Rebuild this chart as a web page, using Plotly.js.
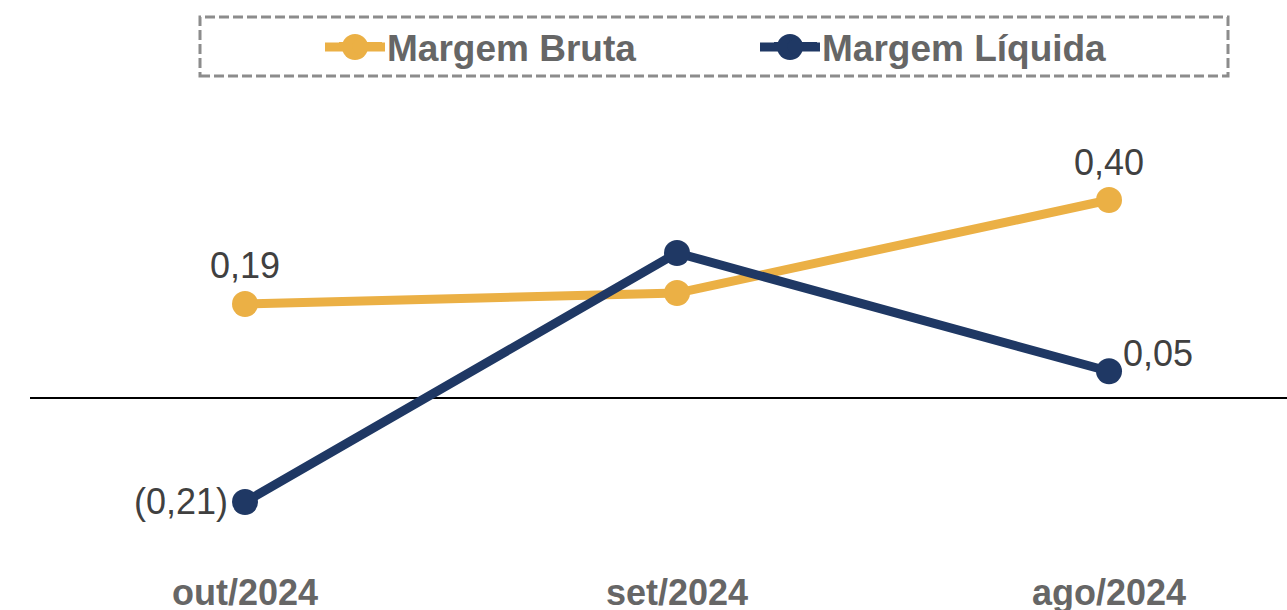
<!DOCTYPE html>
<html>
<head>
<meta charset="utf-8">
<script src="https://cdn.plot.ly/plotly-3.0.1.min.js"></script>
<style>
  html, body { margin: 0; padding: 0; background: #ffffff; }
  #chart { width: 1287px; height: 610px; }
</style>
</head>
<body>
<div id="chart"></div>
<script>
// ---- data ----
var categories = ['out/2024', 'set/2024', 'ago/2024'];
var margemBruta = [0.19, 0.212, 0.40];
var margemLiquida = [-0.21, 0.293, 0.054];
var seriesNames = ['Margem Bruta', 'Margem Líquida'];
// which points carry a value label (the reference shows none for set/2024)
var showLabel = [true, false, true];

var colorBruta = '#EBB045';
var colorLiquida = '#1F3864';
var seriesColors = [colorBruta, colorLiquida];

function fmt(v) {
  var s = Math.abs(v).toFixed(2).replace('.', ',');
  return v < 0 ? '(' + s + ')' : s;
}

var FONT = '"Liberation Sans", Arial, sans-serif';

// plot-area geometry helpers (pixels -> paper fractions)
var W = 1287, H = 610, ML = 30, MR = 0, MT = 0, MB = 42;
var PW = W - ML - MR, PH = H - MT - MB;
function px(x) { return (x - ML) / PW; }
function py(y) { return (H - MB - y) / PH; }

var traces = [
  {
    x: categories, y: margemBruta, name: seriesNames[0],
    type: 'scatter', mode: 'lines+markers',
    line: { color: colorBruta, width: 9 },
    marker: { color: colorBruta, size: 26 },
    hoverinfo: 'skip'
  },
  {
    x: categories, y: margemLiquida, name: seriesNames[1],
    type: 'scatter', mode: 'lines+markers',
    line: { color: colorLiquida, width: 9 },
    marker: { color: colorLiquida, size: 26 },
    hoverinfo: 'skip'
  }
];

var annotations = [];
var labelFont = { family: FONT, size: 36, color: '#404040' };
categories.forEach(function (c, i) {
  if (!showLabel[i]) return;
  annotations.push({
    x: c, y: margemBruta[i], xref: 'x', yref: 'y',
    text: fmt(margemBruta[i]), showarrow: false,
    xanchor: 'center', yanchor: 'middle', yshift: 38,
    font: labelFont
  });
  var neg = margemLiquida[i] < 0;
  annotations.push({
    x: c, y: margemLiquida[i], xref: 'x', yref: 'y',
    text: fmt(margemLiquida[i]), showarrow: false,
    xanchor: neg ? 'right' : 'left', yanchor: 'middle',
    xshift: neg ? -15 : 12, yshift: neg ? 0 : 18,
    font: labelFont
  });
});

// larger legend symbols (line + dot), matching the reference key
var legendCentersX = [355, 790];
var legendCenterY = 47;
var shapes = [
  {
    type: 'rect', xref: 'paper', yref: 'paper',
    x0: px(200), x1: px(1228), y0: py(76), y1: py(17),
    line: { color: '#8C8C8C', width: 3, dash: '10px,4px' },
    fillcolor: 'rgba(0,0,0,0)', layer: 'above'
  }
];
legendCentersX.forEach(function (cx, i) {
  shapes.push({
    type: 'line', xref: 'paper', yref: 'paper',
    xsizemode: 'pixel', ysizemode: 'pixel',
    xanchor: px(cx), yanchor: py(legendCenterY),
    x0: -30, x1: 30, y0: 0, y1: 0,
    line: { color: seriesColors[i], width: 9 }, layer: 'above'
  });
  shapes.push({
    type: 'circle', xref: 'paper', yref: 'paper',
    xsizemode: 'pixel', ysizemode: 'pixel',
    xanchor: px(cx), yanchor: py(legendCenterY),
    x0: -13, x1: 13, y0: -13, y1: 13,
    fillcolor: seriesColors[i], line: { width: 0 }, layer: 'above'
  });
});

var layout = {
  width: W, height: H,
  margin: { l: ML, r: MR, t: MT, b: MB },
  paper_bgcolor: '#ffffff', plot_bgcolor: '#ffffff',
  font: { family: FONT },
  showlegend: true,
  legend: {
    orientation: 'h',
    x: px(334), xanchor: 'left',
    y: py(legendCenterY), yanchor: 'middle',
    font: { family: FONT, size: 37, color: '#666666', weight: 'bold' },
    itemwidth: 43,
    entrywidth: 377, entrywidthmode: 'pixels',
    bgcolor: 'rgba(0,0,0,0)', borderwidth: 0,
    itemclick: false, itemdoubleclick: false
  },
  xaxis: {
    type: 'category',
    range: [-0.4977, 2.412],
    showgrid: false, zeroline: false, showline: false, ticks: '',
    tickfont: { family: FONT, size: 36, color: '#666666', weight: 'bold' },
    fixedrange: true
  },
  yaxis: {
    range: [-(H - MB - 398) / 495, 398 / 495],
    showgrid: false, showticklabels: false, ticks: '',
    zeroline: true, zerolinecolor: '#000000', zerolinewidth: 1.5,
    showline: false, fixedrange: true
  },
  shapes: shapes,
  annotations: annotations,
  hovermode: false
};

Plotly.newPlot('chart', traces, layout, { displayModeBar: false, staticPlot: true });
</script>
</body>
</html>
